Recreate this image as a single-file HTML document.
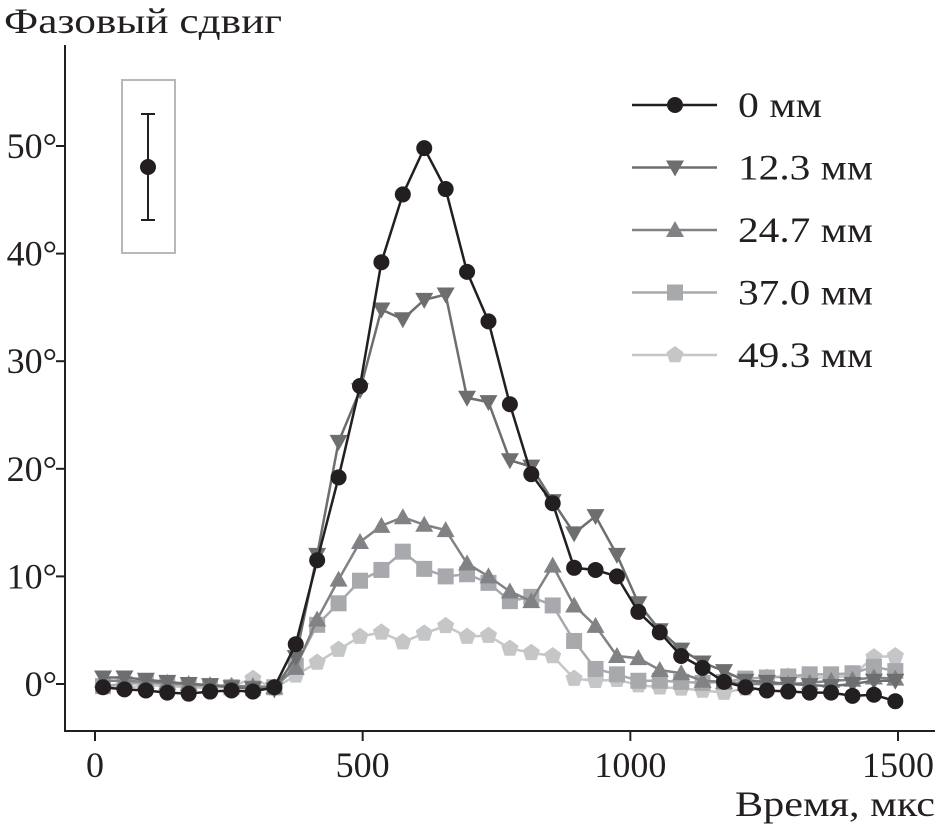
<!DOCTYPE html>
<html><head><meta charset="utf-8"><style>
body{margin:0;background:#fff}
svg{display:block;font-family:"Liberation Serif",serif}
</style></head><body>
<svg id="chart" width="939" height="831" viewBox="0 0 939 831" xmlns="http://www.w3.org/2000/svg">
<text x="4" y="33" font-size="36" fill="#231f20" textLength="278" lengthAdjust="spacingAndGlyphs">Фазовый сдвиг</text>
<text x="935" y="816" font-size="36" fill="#231f20" text-anchor="end" textLength="200" lengthAdjust="spacingAndGlyphs">Время, мкс</text>
<g id="axes"></g>
<g id="series"></g>
<g id="legend"></g>
<g>
<rect x="122" y="80" width="53" height="173" fill="none" stroke="#b8b8b8" stroke-width="2"/>
<line x1="148" y1="114" x2="148" y2="220" stroke="#231f20" stroke-width="2"/>
<line x1="141" y1="114" x2="155" y2="114" stroke="#231f20" stroke-width="2"/>
<line x1="141" y1="220" x2="155" y2="220" stroke="#231f20" stroke-width="2"/>
<circle cx="148" cy="167" r="8" fill="#231f20"/>
</g>
</svg>
<script>
const xTicks=[0,500,1000,1500];
const yTicks=[0,10,20,30,40,50];
const seriesNames=["0 мм","12.3 мм","24.7 мм","37.0 мм","49.3 мм"];
const times=[15,55,95,135,175,215,255,295,335,375,415,455,495,535,575,615,655,695,735,775,815,855,895,935,975,1015,1055,1095,1135,1175,1215,1255,1295,1335,1375,1415,1455,1495];
const s0=[-0.3,-0.5,-0.6,-0.8,-0.9,-0.7,-0.6,-0.7,-0.3,3.7,11.5,19.2,27.7,39.2,45.5,49.8,46,38.3,33.7,26,19.5,16.8,10.8,10.6,10,6.7,4.8,2.6,1.5,0.2,-0.3,-0.6,-0.7,-0.8,-0.8,-1.1,-1.0,-1.6];
const s1=[0.6,0.6,0.4,0.2,0,-0.1,-0.3,-0.4,-0.5,2.5,12,22.5,27.3,34.8,33.9,35.7,36.2,26.6,26.2,20.8,20.2,17,14,15.6,12,7.5,5,3.2,2,1.2,0.3,0.2,0,-0.1,-0.2,0,0.3,0.3];
const s2=[0.3,0.3,0.2,0.1,0,-0.1,-0.2,-0.2,-0.3,1.5,6,9.7,13.2,14.7,15.5,14.8,14.3,11.2,10,8.6,7.7,11,7.3,5.4,2.6,2.4,1.3,1,0.3,0.2,0,0,0,0.1,0.3,0.4,0.6,0.5];
const s3=[-0.2,0,0.1,0,-0.2,-0.2,-0.3,-0.4,-0.3,1.7,5.5,7.5,9.6,10.6,12.3,10.7,10,10.2,9.4,7.7,8.1,7.3,4,1.4,0.9,0.3,0.3,0.2,0.1,0.2,0.5,0.6,0.7,0.9,0.9,1.0,1.6,1.2];
const s4=[-0.3,-0.4,-0.1,-0.2,-0.3,-0.4,-0.2,0.5,-0.4,0.8,2,3.2,4.4,4.8,3.9,4.7,5.4,4.4,4.5,3.3,2.9,2.6,0.5,0.3,0.4,-0.1,-0.3,-0.4,-0.6,-0.8,-0.4,0.6,0.7,0.6,0.6,0.8,2.5,2.6];
const NS="http://www.w3.org/2000/svg";
const X=v=>95+v*(898-95)/1500;
const Y=v=>684-v*(684-146)/50;
function mk(tag,attrs,parent){const e=document.createElementNS(NS,tag);for(const k in attrs)e.setAttribute(k,attrs[k]);parent.appendChild(e);return e;}
const axes=document.getElementById('axes');
let l=mk('line',{x1:65,y1:45,x2:65,y2:731,stroke:'#231f20','stroke-width':2},axes);


l=mk('line',{x1:64,y1:731,x2:935,y2:731,stroke:'#231f20','stroke-width':2},axes);


yTicks.forEach(t=>{
 const tk=mk('line',{x1:56,y1:Y(t),x2:65,y2:Y(t),stroke:'#231f20','stroke-width':2},axes);
 
 
 const tx=mk('text',{x:57,y:Y(t)+12,'font-size':36,'text-anchor':'end',fill:'#231f20'},axes);
 tx.textContent=t+'°';
 
 
});
xTicks.forEach(t=>{
 const tk=mk('line',{x1:X(t),y1:731,x2:X(t),y2:741,stroke:'#231f20','stroke-width':2},axes);
 
 
 const tx=mk('text',{x:X(t),y:777,'font-size':36,'text-anchor':'middle',fill:'#231f20'},axes);
 tx.textContent=t;
 
 
});
const colors=['#231f20','#6d6e70','#808285','#a7a9ac','#c4c6c8'];
const shapes=['circle','tridown','triup','square','pent'];
function marker(shape,cx,cy,col,parent){
 const r=8;
 if(shape==='circle')return mk('circle',{cx,cy,r,fill:col},parent);
 if(shape==='square')return mk('rect',{x:cx-8,y:cy-8,width:16,height:16,fill:col},parent);
 let pts;
 if(shape==='tridown')pts=[[cx-9,cy-7],[cx+9,cy-7],[cx,cy+9]];
 else if(shape==='triup')pts=[[cx-9,cy+7],[cx+9,cy+7],[cx,cy-9]];
 else{pts=[];for(let i=0;i<5;i++){const a=-Math.PI/2+i*2*Math.PI/5;pts.push([cx+9*Math.cos(a),cy+9*Math.sin(a)]);}}
 return mk('polygon',{points:pts.map(p=>p.join(',')).join(' '),fill:col},parent);
}
const data=[s0,s1,s2,s3,s4];
const sg=document.getElementById('series');
for(let k=data.length-1;k>=0;k--){
 const g=mk('g',{},sg);
 
 
 const p=mk('polyline',{points:data[k].map((v,i)=>X(times[i])+','+Y(v)).join(' '),fill:'none',stroke:colors[k],'stroke-width':2.5},g);
 
 
 data[k].forEach((v,i)=>{
  const m=marker(shapes[k],X(times[i]),Y(v),colors[k],g);
  
  
 });
}
const lg=document.getElementById('legend');
const legW=[84,135,135,135,135];
seriesNames.forEach((n,k)=>{
 const y=105+k*62.5;
 const g=mk('g',{},lg);
 
 
 mk('line',{x1:632,y1:y,x2:717,y2:y,stroke:colors[k],'stroke-width':2.5},g);
 marker(shapes[k],675,y,colors[k],g);
 const t=mk('text',{x:738,y:y+12,'font-size':36,fill:'#231f20',textLength:legW[k],lengthAdjust:'spacingAndGlyphs'},g);
 t.textContent=n;
});
</script>
</body></html>
